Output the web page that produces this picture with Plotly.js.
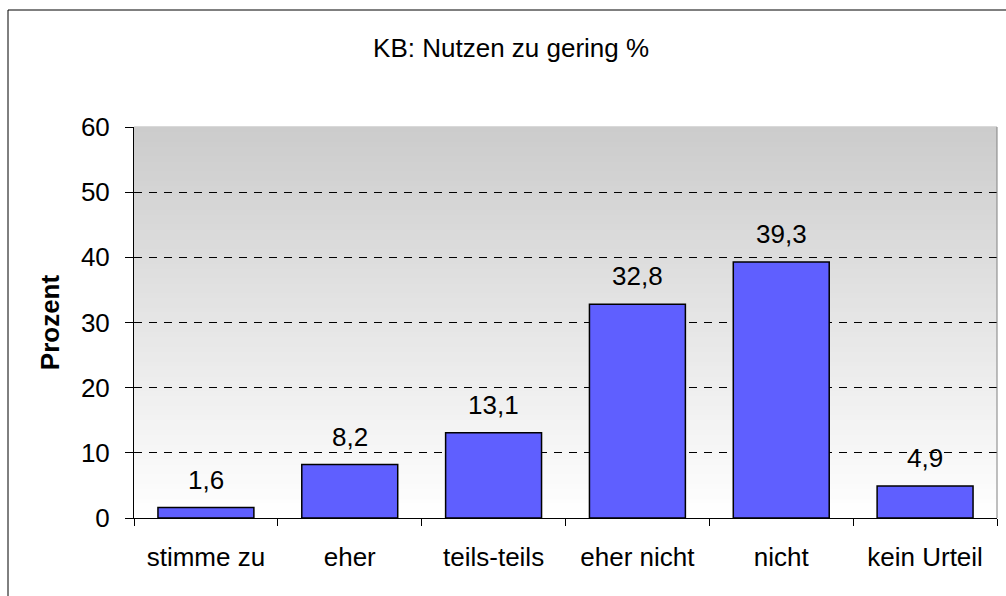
<!DOCTYPE html>
<html>
<head>
<meta charset="utf-8">
<script src="https://cdn.plot.ly/plotly-3.0.1.min.js"></script>
<style>
  html, body { margin: 0; padding: 0; background: #fff; }
  #chart { width: 1006px; height: 596px; }
</style>
</head>
<body>
<div id="chart"></div>
<script>
// chart data
const categories = ['stimme zu', 'eher', 'teils-teils', 'eher nicht', 'nicht', 'kein Urteil'];
const percentValues = [1.6, 8.2, 13.1, 32.8, 39.3, 4.9];
const yTicks = [0, 10, 20, 30, 40, 50, 60];

const FONT = 'Arial, "Liberation Sans", sans-serif';
const FS = 26;

// gray -> white gradient behind the bars, built from thin strips
const bgShapes = [];
const strips = 80;
for (let i = 0; i < strips; i++) {
    const g = Math.round(255 - (255 - 204) * (i / (strips - 1)));
    bgShapes.push({
        type: 'rect', xref: 'x domain', yref: 'y domain',
        x0: 0, x1: 1, y0: i / strips, y1: (i + 1) / strips + 0.002,
        fillcolor: `rgb(${g},${g},${g})`, line: { width: 0 }, layer: 'below'
    });
}

// value labels with German decimal comma
const labels = categories.map((c, i) => ({
    x: c, y: percentValues[i], xref: 'x', yref: 'y',
    text: percentValues[i].toFixed(1).replace('.', ','),
    showarrow: false, yanchor: 'bottom', yshift: 11,
    font: { family: FONT, size: FS, color: '#000' }
}));

const barTrace = {
    type: 'bar', x: categories, y: percentValues,
    marker: { color: '#5f5fff', line: { color: '#000', width: 1.5 } },
    hoverinfo: 'none'
};

const layout = {
    width: 1006, height: 596,
    margin: { l: 134, r: 9, t: 127, b: 78 },
    paper_bgcolor: '#fff', plot_bgcolor: 'rgba(0,0,0,0)',
    showlegend: false, bargap: 0.333,
    font: { family: FONT, size: FS, color: '#000' },
    title: {
        text: 'KB: Nutzen zu gering %', xref: 'paper', x: 0.437, xanchor: 'center',
        yref: 'container', y: 1 - 48 / 596, yanchor: 'middle',
        font: { family: FONT, size: FS, color: '#000' }
    },
    xaxis: {
        type: 'category', showgrid: false, zeroline: false,
        showline: true, linecolor: '#000', linewidth: 1,
        ticks: 'outside', tickson: 'boundaries', ticklen: 7, tickcolor: '#000',
        ticklabelstandoff: 16,
        tickfont: { family: FONT, size: FS, color: '#000' }
    },
    yaxis: {
        range: [0, 60], tickvals: yTicks, ticktext: yTicks.map(String),
        showgrid: true, gridcolor: '#000', gridwidth: 1, griddash: '8px,7px',
        zeroline: false, showline: true, linecolor: '#000', linewidth: 1,
        ticks: 'outside', ticklen: 8, tickcolor: '#000',
        ticklabelstandoff: 10,
        tickfont: { family: FONT, size: FS, color: '#000' },
        title: { text: '<b>Prozent</b>', standoff: 13, font: { family: FONT, size: FS, color: '#000' } }
    },
    shapes: bgShapes.concat([
        // gray frame on the right of the plot area
        { type: 'line', xref: 'x domain', yref: 'y domain', x0: 1, x1: 1, y0: 0, y1: 1,
          line: { color: '#808080', width: 1 } },
        // outer chart border
        { type: 'rect', xref: 'paper', yref: 'paper',
          x0: (8 - 134) / 863, x1: (1012 - 134) / 863,
          y0: (518 - 600) / 391, y1: (518 - 10) / 391,
          line: { color: '#000', width: 1 }, fillcolor: 'rgba(0,0,0,0)' }
    ]),
    annotations: labels
};

Plotly.newPlot('chart', [barTrace], layout, { displayModeBar: false, staticPlot: true });
</script>
</body>
</html>
